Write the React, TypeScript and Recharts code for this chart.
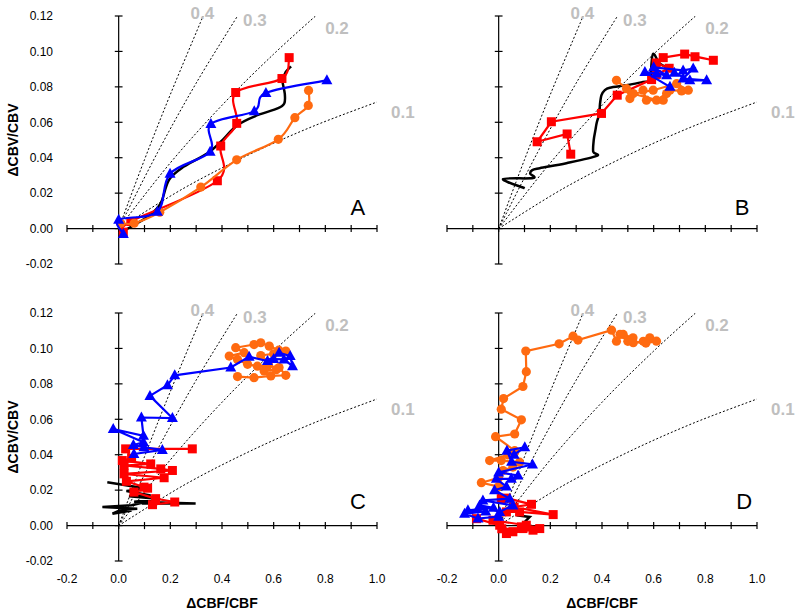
import React from 'react';
import { ScatterChart, Scatter, XAxis, YAxis, ReferenceLine, ReferenceDot, Label } from 'recharts';

type Pt = { x: number; y: number };

const FONT = 'Liberation Sans, Arial, Helvetica, sans-serif';
const RED = '#ff0000';
const BLUE = '#0000ff';
const ORANGE = '#ff6a10';
const BLACK = '#000000';
const GREY = '#bfbfbf';

// Axis ticks
const xTickLabels = [-0.2, 0, 0.2, 0.4, 0.6, 0.8, 1.0];
const xTickMarks = [-0.2, -0.1, 0, 0.1, 0.2, 0.3, 0.4, 0.5, 0.6, 0.7, 0.8, 0.9, 1.0];
const yTicks = [-0.02, 0, 0.02, 0.04, 0.06, 0.08, 0.1, 0.12];

// Reference exponent curves
const grubb01: Pt[] = [{ x: 0, y: 0 }, { x: 0.25, y: 0.0226 }, { x: 0.5, y: 0.0414 }, { x: 0.75, y: 0.0576 }, { x: 1.01, y: 0.072 }];
const grubb02: Pt[] = [{ x: 0, y: 0 }, { x: 0.2, y: 0.0371 }, { x: 0.4, y: 0.0696 }, { x: 0.6, y: 0.0985 }, { x: 0.775, y: 0.1217 }];
const grubb03: Pt[] = [{ x: 0, y: 0 }, { x: 0.15, y: 0.0428 }, { x: 0.3, y: 0.0821 }, { x: 0.46, y: 0.12 }];
const grubb04: Pt[] = [{ x: 0, y: 0 }, { x: 0.1, y: 0.0389 }, { x: 0.2, y: 0.0757 }, { x: 0.327, y: 0.12 }];
const grubbLabels = [
  { text: '0.4', x: 0.324, y: 0.1215 },
  { text: '0.3', x: 0.527, y: 0.118 },
  { text: '0.2', x: 0.845, y: 0.1132 },
  { text: '0.1', x: 1.1, y: 0.0657 },
];

// Panel A
const aBlack: Pt[] = [
  { x: 0.01, y: -0.002 }, { x: 0.06, y: 0.002 }, { x: 0.12, y: 0.0075 }, { x: 0.163, y: 0.0144 },
  { x: 0.195, y: 0.0275 }, { x: 0.253, y: 0.035 }, { x: 0.344, y: 0.0425 }, { x: 0.395, y: 0.049 },
  { x: 0.46, y: 0.0584 }, { x: 0.537, y: 0.064 }, { x: 0.615, y: 0.0678 }, { x: 0.641, y: 0.0706 },
  { x: 0.643, y: 0.0762 }, { x: 0.634, y: 0.0837 }, { x: 0.647, y: 0.0884 }, { x: 0.667, y: 0.0916 },
];
const aRed: Pt[] = [
  { x: 0.018, y: -0.002 }, { x: 0.047, y: 0.004 }, { x: 0.382, y: 0.027 }, { x: 0.395, y: 0.0466 },
  { x: 0.457, y: 0.0594 }, { x: 0.453, y: 0.0768 }, { x: 0.632, y: 0.0847 }, { x: 0.66, y: 0.0965 },
];
const aBlue: Pt[] = [
  { x: 0.018, y: -0.003 }, { x: 0.0, y: 0.005 }, { x: 0.15, y: 0.0095 }, { x: 0.199, y: 0.031 },
  { x: 0.354, y: 0.0434 }, { x: 0.357, y: 0.059 }, { x: 0.525, y: 0.0663 }, { x: 0.57, y: 0.0766 },
  { x: 0.806, y: 0.0837 },
];
const aOrange: Pt[] = [
  { x: 0.008, y: 0.003 }, { x: 0.06, y: 0.003 }, { x: 0.159, y: 0.0092 }, { x: 0.318, y: 0.0234 },
  { x: 0.457, y: 0.0388 }, { x: 0.618, y: 0.0504 }, { x: 0.682, y: 0.0626 }, { x: 0.734, y: 0.0695 },
  { x: 0.735, y: 0.078 },
];

// Panel B
const bBlack: Pt[] = [
  { x: 0.101, y: 0.0228 }, { x: 0.017, y: 0.0279 }, { x: 0.133, y: 0.0285 }, { x: 0.122, y: 0.031 },
  { x: 0.13, y: 0.033 }, { x: 0.159, y: 0.0341 }, { x: 0.262, y: 0.0369 }, { x: 0.379, y: 0.041 },
  { x: 0.366, y: 0.0434 }, { x: 0.368, y: 0.05 }, { x: 0.375, y: 0.056 }, { x: 0.38, y: 0.06 },
  { x: 0.39, y: 0.065 }, { x: 0.392, y: 0.07 }, { x: 0.398, y: 0.0753 }, { x: 0.41, y: 0.078 },
  { x: 0.43, y: 0.0795 }, { x: 0.5, y: 0.081 }, { x: 0.559, y: 0.0828 }, { x: 0.585, y: 0.0835 },
  { x: 0.59, y: 0.09 }, { x: 0.598, y: 0.0987 }, { x: 0.624, y: 0.0931 }, { x: 0.663, y: 0.0903 },
];
const bRed: Pt[] = [
  { x: 0.279, y: 0.042 }, { x: 0.265, y: 0.0534 }, { x: 0.149, y: 0.049 }, { x: 0.204, y: 0.0603 },
  { x: 0.398, y: 0.065 }, { x: 0.459, y: 0.0753 }, { x: 0.592, y: 0.0841 }, { x: 0.61, y: 0.087 },
  { x: 0.66, y: 0.0905 }, { x: 0.61, y: 0.0935 }, { x: 0.637, y: 0.0965 }, { x: 0.72, y: 0.0985 },
  { x: 0.831, y: 0.095 }, { x: 0.76, y: 0.097 },
];
const bBlue: Pt[] = [
  { x: 0.663, y: 0.08 }, { x: 0.566, y: 0.0884 }, { x: 0.611, y: 0.0875 }, { x: 0.65, y: 0.0865 },
  { x: 0.6, y: 0.091 }, { x: 0.714, y: 0.0893 }, { x: 0.753, y: 0.0903 }, { x: 0.714, y: 0.0847 },
  { x: 0.805, y: 0.0837 }, { x: 0.74, y: 0.0837 }, { x: 0.68, y: 0.088 },
];
const bOrange: Pt[] = [
  { x: 0.456, y: 0.0837 }, { x: 0.495, y: 0.079 }, { x: 0.508, y: 0.0734 }, { x: 0.559, y: 0.0781 },
  { x: 0.572, y: 0.0725 }, { x: 0.637, y: 0.0725 }, { x: 0.663, y: 0.0781 }, { x: 0.708, y: 0.0777 },
  { x: 0.734, y: 0.0781 }, { x: 0.689, y: 0.0818 }, { x: 0.598, y: 0.0781 }, { x: 0.521, y: 0.0762 },
  { x: 0.611, y: 0.0725 }, { x: 0.65, y: 0.0762 },
];

// Panel C
const cBlack: Pt[] = [
  { x: -0.044, y: 0.0245 }, { x: 0.111, y: 0.0208 }, { x: 0.03, y: 0.0195 }, { x: 0.124, y: 0.017 },
  { x: 0.04, y: 0.0165 }, { x: 0.16, y: 0.015 }, { x: 0.06, y: 0.0135 }, { x: 0.298, y: 0.0124 },
  { x: 0.09, y: 0.0125 }, { x: 0.14, y: 0.0145 }, { x: 0.05, y: 0.0115 }, { x: -0.063, y: 0.0105 },
  { x: 0.072, y: 0.0095 }, { x: 0.01, y: 0.009 }, { x: -0.024, y: 0.0067 }, { x: 0.05, y: 0.0085 },
];
const cRed: Pt[] = [
  { x: 0.131, y: 0.0118 }, { x: 0.217, y: 0.0133 }, { x: 0.143, y: 0.0152 }, { x: 0.059, y: 0.0189 },
  { x: 0.112, y: 0.0211 }, { x: 0.098, y: 0.0217 }, { x: 0.03, y: 0.025 }, { x: 0.176, y: 0.027 },
  { x: 0.021, y: 0.0292 }, { x: 0.208, y: 0.0311 }, { x: 0.163, y: 0.032 }, { x: 0.021, y: 0.0339 },
  { x: 0.124, y: 0.0348 }, { x: 0.014, y: 0.0367 }, { x: 0.05, y: 0.038 }, { x: 0.027, y: 0.0433 },
  { x: 0.285, y: 0.0433 },
];
const cBlue: Pt[] = [
  { x: 0.059, y: 0.0404 }, { x: 0.169, y: 0.0427 }, { x: 0.098, y: 0.0442 }, { x: 0.057, y: 0.0455 },
  { x: 0.096, y: 0.047 }, { x: -0.021, y: 0.0545 }, { x: 0.096, y: 0.0507 }, { x: 0.088, y: 0.061 },
  { x: 0.208, y: 0.0607 }, { x: 0.121, y: 0.0732 }, { x: 0.189, y: 0.0792 }, { x: 0.217, y: 0.0848 },
  { x: 0.434, y: 0.0892 }, { x: 0.505, y: 0.0953 }, { x: 0.576, y: 0.0929 }, { x: 0.621, y: 0.0976 },
  { x: 0.664, y: 0.0957 }, { x: 0.673, y: 0.09 }, { x: 0.64, y: 0.0938 }, { x: 0.6, y: 0.094 },
];
const cOrange: Pt[] = [
  { x: 0.46, y: 0.0841 }, { x: 0.524, y: 0.0835 }, { x: 0.589, y: 0.0845 }, { x: 0.647, y: 0.0848 },
  { x: 0.621, y: 0.0892 }, { x: 0.576, y: 0.09 }, { x: 0.537, y: 0.09 }, { x: 0.499, y: 0.091 },
  { x: 0.46, y: 0.0938 }, { x: 0.428, y: 0.0957 }, { x: 0.486, y: 0.0976 }, { x: 0.453, y: 0.1004 },
  { x: 0.524, y: 0.1022 }, { x: 0.55, y: 0.1032 }, { x: 0.583, y: 0.1013 }, { x: 0.62, y: 0.099 },
  { x: 0.647, y: 0.0985 }, { x: 0.6, y: 0.097 }, { x: 0.55, y: 0.096 }, { x: 0.58, y: 0.092 },
  { x: 0.61, y: 0.088 }, { x: 0.563, y: 0.0873 },
];

// Panel D
const dBlack: Pt[] = [
  { x: 0.069, y: 0.0058 }, { x: 0.12, y: 0.0049 }, { x: 0.101, y: 0.0021 }, { x: 0.094, y: -0.0002 },
  { x: 0.127, y: -0.0002 }, { x: 0.15, y: -0.002 }, { x: 0.165, y: -0.0035 },
];
const dRed: Pt[] = [
  { x: -0.086, y: 0.0039 }, { x: 0.004, y: 0.0002 }, { x: 0.055, y: -0.0035 }, { x: 0.012, y: -0.0018 },
  { x: 0.094, y: -0.0017 }, { x: 0.133, y: -0.0026 }, { x: 0.088, y: -0.0007 }, { x: 0.03, y: -0.0045 },
  { x: 0.159, y: -0.0017 }, { x: 0.107, y: 0.0002 }, { x: -0.022, y: 0.003 }, { x: 0.03, y: 0.0077 },
  { x: 0.081, y: 0.0077 }, { x: 0.211, y: 0.0062 }, { x: 0.06, y: 0.0105 }, { x: 0.127, y: 0.012 },
  { x: 0.03, y: 0.0155 }, { x: 0.01, y: 0.0152 },
];
const dBlue: Pt[] = [
  { x: 0.0, y: 0.005 }, { x: -0.08, y: 0.004 }, { x: -0.132, y: 0.0067 }, { x: -0.05, y: 0.008 },
  { x: -0.119, y: 0.0086 }, { x: -0.02, y: 0.01 }, { x: -0.074, y: 0.0114 }, { x: 0.004, y: 0.0077 },
  { x: 0.055, y: 0.0114 }, { x: -0.061, y: 0.0142 }, { x: 0.043, y: 0.0152 }, { x: -0.016, y: 0.0199 },
  { x: 0.03, y: 0.022 }, { x: -0.009, y: 0.0264 }, { x: 0.049, y: 0.0264 }, { x: 0.075, y: 0.0283 },
  { x: 0.0, y: 0.03 }, { x: 0.131, y: 0.0345 }, { x: 0.05, y: 0.036 }, { x: 0.032, y: 0.0423 },
  { x: 0.101, y: 0.0442 }, { x: 0.06, y: 0.04 },
];
const dOrange: Pt[] = [
  { x: 0.0, y: 0.022 }, { x: -0.067, y: 0.0242 }, { x: 0.0, y: 0.027 }, { x: 0.017, y: 0.0311 },
  { x: 0.055, y: 0.033 }, { x: 0.081, y: 0.0358 }, { x: 0.01, y: 0.0367 }, { x: -0.035, y: 0.0367 },
  { x: 0.036, y: 0.0399 }, { x: 0.062, y: 0.0414 }, { x: 0.062, y: 0.0423 }, { x: -0.012, y: 0.0502 },
  { x: 0.062, y: 0.0517 }, { x: 0.088, y: 0.0597 }, { x: 0.01, y: 0.0657 }, { x: 0.019, y: 0.0717 },
  { x: 0.094, y: 0.0785 }, { x: 0.107, y: 0.0869 }, { x: 0.105, y: 0.0985 }, { x: 0.234, y: 0.1026 },
  { x: 0.288, y: 0.1069 }, { x: 0.307, y: 0.1047 }, { x: 0.437, y: 0.1103 }, { x: 0.456, y: 0.1041 },
  { x: 0.482, y: 0.1079 }, { x: 0.52, y: 0.106 }, { x: 0.521, y: 0.1032 }, { x: 0.56, y: 0.104 },
  { x: 0.585, y: 0.106 }, { x: 0.611, y: 0.1041 }, { x: 0.57, y: 0.103 }, { x: 0.5, y: 0.104 },
  { x: 0.47, y: 0.108 },
];

// Catmull-Rom style smoothing (similar to spreadsheet "smoothed line")
const smoothCurve = (context: any) => {
  let pts: number[][] = [];
  const k = 1 / 6;
  return {
    areaStart() {},
    areaEnd() {},
    lineStart() { pts = []; },
    point(x: number, y: number) { pts.push([+x, +y]); },
    lineEnd() {
      const n = pts.length;
      if (n === 0) return;
      context.moveTo(pts[0][0], pts[0][1]);
      if (n === 1) return;
      for (let i = 0; i < n - 1; i++) {
        const p0 = pts[Math.max(0, i - 1)];
        const p1 = pts[i];
        const p2 = pts[i + 1];
        const p3 = pts[Math.min(n - 1, i + 2)];
        context.bezierCurveTo(
          p1[0] + (p2[0] - p0[0]) * k, p1[1] + (p2[1] - p0[1]) * k,
          p2[0] - (p3[0] - p1[0]) * k, p2[1] - (p3[1] - p1[1]) * k,
          p2[0], p2[1]
        );
      }
    },
  };
};

const noShape = () => <g />;
const squareShape = (props: any) => (
  <rect x={props.cx - 4.5} y={props.cy - 4.5} width={9} height={9} fill={RED} />
);
const triangleShape = (props: any) => (
  <polygon
    points={`${props.cx},${props.cy - 6} ${props.cx - 5.5},${props.cy + 4} ${props.cx + 5.5},${props.cy + 4}`}
    fill={BLUE}
  />
);
const circleShape = (props: any) => <circle cx={props.cx} cy={props.cy} r={4.6} fill={ORANGE} />;

const renderXTitle = (props: any) => {
  const vb = props.viewBox || {};
  return (
    <text x={vb.x + vb.width / 2} y={vb.y + 47} textAnchor="middle" fontSize={14} fontWeight="bold" fontFamily={FONT} fill="#000">
      ΔCBF/CBF
    </text>
  );
};
const renderYTitle = (props: any) => {
  const vb = props.viewBox || {};
  const cy = vb.y + vb.height / 2;
  return (
    <text x={13} y={cy} transform={`rotate(-90, 13, ${cy})`} textAnchor="middle" dominantBaseline="central" fontSize={14} fontWeight="bold" fontFamily={FONT} fill="#000">
      ΔCBV/CBV
    </text>
  );
};

interface PanelProps {
  letter: string;
  letterX: number;
  letterY: number;
  left: number;
  top: number;
  showX: boolean;
  showY: boolean;
  smooth: boolean;
  smoothBlack: boolean;
  black: Pt[];
  red: Pt[];
  blue: Pt[];
  orange: Pt[];
}

function Panel(p: PanelProps) {
  const joint: any = p.smooth ? smoothCurve : 'linear';
  const blackJoint: any = p.smooth || p.smoothBlack ? smoothCurve : 'linear';
  const tickStyle = { fontSize: 12, fill: '#000', fontFamily: FONT };
  return (
    <div style={{ position: 'absolute', left: p.left, top: p.top }}>
      <ScatterChart width={420} height={315} margin={{ top: 16, right: 43, bottom: 0, left: 0 }}>
        <XAxis
          type="number"
          dataKey="x"
          domain={[-0.2, 1.0]}
          allowDataOverflow
          ticks={xTickLabels}
          interval={0}
          tickFormatter={(v: number) => v.toFixed(1)}
          axisLine={false}
          tickLine={false}
          tickSize={0}
          tickMargin={13}
          height={51}
          tick={p.showX ? tickStyle : false}
        >
          {p.showX ? <Label content={renderXTitle} /> : null}
        </XAxis>
        <YAxis
          type="number"
          dataKey="y"
          domain={[-0.02, 0.12]}
          allowDataOverflow
          ticks={yTicks}
          interval={0}
          tickFormatter={(v: number) => v.toFixed(2)}
          axisLine={false}
          tickLine={false}
          tickSize={0}
          tickMargin={14}
          width={67}
          tick={p.showY ? tickStyle : false}
        >
          {p.showY ? <Label content={renderYTitle} /> : null}
        </YAxis>

        <ReferenceLine x={0} stroke="#000" strokeWidth={1.2} />
        <ReferenceLine y={0} stroke="#000" strokeWidth={1.2} />
        {xTickMarks.map((t) => (
          <ReferenceLine key={'xt' + t} segment={[{ x: t, y: -0.002 }, { x: t, y: 0.002 }]} stroke="#000" strokeWidth={1.2} />
        ))}
        {yTicks.map((t) => (
          <ReferenceLine key={'yt' + t} segment={[{ x: -0.015, y: t }, { x: 0.015, y: t }]} stroke="#000" strokeWidth={1.2} />
        ))}

        {[grubb01, grubb02, grubb03, grubb04].map((g, i) => (
          <Scatter
            key={'g' + i}
            data={g}
            shape={noShape}
            line={{ stroke: '#000', strokeWidth: 1, strokeDasharray: '2 2' }}
            lineJointType={smoothCurve as any}
            isAnimationActive={false}
          />
        ))}

        <Scatter data={p.black} shape={noShape} line={{ stroke: BLACK, strokeWidth: 2.5 }} lineJointType={blackJoint} isAnimationActive={false} />
        <Scatter data={p.red} shape={squareShape} line={{ stroke: RED, strokeWidth: 2.2 }} lineJointType={joint} isAnimationActive={false} />
        <Scatter data={p.orange} shape={circleShape} line={{ stroke: ORANGE, strokeWidth: 2.2 }} lineJointType={joint} isAnimationActive={false} />
        <Scatter data={p.blue} shape={triangleShape} line={{ stroke: BLUE, strokeWidth: 2.2 }} lineJointType={joint} isAnimationActive={false} />

        {grubbLabels.map((g) => (
          <ReferenceDot
            key={'gl' + g.text}
            x={g.x}
            y={g.y}
            r={0}
            fill="none"
            stroke="none"
            ifOverflow="visible"
            label={{ value: g.text, position: 'center', fill: GREY, fontSize: 17, fontWeight: 'bold', fontFamily: FONT }}
          />
        ))}
        <ReferenceDot
          x={p.letterX}
          y={p.letterY}
          r={0}
          fill="none"
          stroke="none"
          ifOverflow="visible"
          label={{ value: p.letter, position: 'center', fill: '#000', fontSize: 22, fontFamily: FONT }}
        />
      </ScatterChart>
    </div>
  );
}

export default function App() {
  return (
    <div style={{ position: 'absolute', left: 0, top: 0, width: 800, height: 612, background: '#fff', fontFamily: FONT }}>
      <Panel letter="A" letterX={0.926} letterY={0.012} left={0} top={0} showX={false} showY smooth smoothBlack black={aBlack} red={aRed} blue={aBlue} orange={aOrange} />
      <Panel letter="B" letterX={0.942} letterY={0.012} left={380} top={0} showX={false} showY={false} smooth={false} smoothBlack black={bBlack} red={bRed} blue={bBlue} orange={bOrange} />
      <Panel letter="C" letterX={0.926} letterY={0.014} left={0} top={297} showX showY smooth={false} smoothBlack={false} black={cBlack} red={cRed} blue={cBlue} orange={cOrange} />
      <Panel letter="D" letterX={0.95} letterY={0.014} left={380} top={297} showX showY={false} smooth={false} smoothBlack={false} black={dBlack} red={dRed} blue={dBlue} orange={dOrange} />
    </div>
  );
}
